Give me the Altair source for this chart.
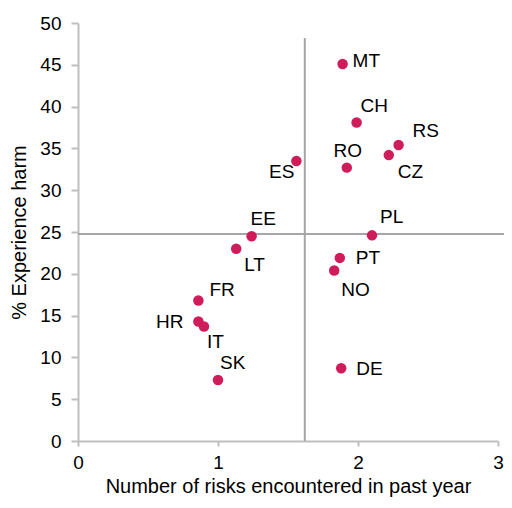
import altair as alt
import pandas as pd

# ---- data ----
countries = ["MT", "CH", "RS", "CZ", "RO", "ES", "PL", "EE", "LT", "PT", "NO", "DE", "FR", "HR", "IT", "SK"]
risks = [1.89, 1.99, 2.29, 2.22, 1.92, 1.56, 2.10, 1.24, 1.13, 1.87, 1.83, 1.88, 0.86, 0.86, 0.90, 1.00]
harm = [45.1, 38.1, 35.4, 34.2, 32.7, 33.5, 24.6, 24.5, 23.0, 21.9, 20.4, 8.7, 16.8, 14.3, 13.7, 7.3]

avg_risks = 1.62
avg_harm = 24.75
vline_top = 48.2

x_ticks = [0, 1, 2, 3]
y_ticks = [0, 5, 10, 15, 20, 25, 30, 35, 40, 45, 50]

# ---- styling ----
FONT = "Liberation Sans"
POINT_COLOR = "#D01C5A"
LINE_COLOR = "#A6A6A6"
AXIS_COLOR = "#BFBFBF"
W, H = 420, 418
PAD = {"left": 70, "top": 15, "right": 6, "bottom": 57}

# label placement (pixel offsets from the point, text alignment)
label_style = {
    "MT": (10, -3, "left"),
    "CH": (4, -16, "left"),
    "RS": (14, -14, "left"),
    "CZ": (9, 17, "left"),
    "RO": (1, -17, "center"),
    "ES": (-2, 11, "right"),
    "PL": (8, -18, "left"),
    "EE": (-1, -17, "left"),
    "LT": (8, 16, "left"),
    "PT": (16, 0, "left"),
    "NO": (7, 20, "left"),
    "DE": (15, 1, "left"),
    "FR": (11, -11, "left"),
    "HR": (-15, 1, "right"),
    "IT": (3, 16, "left"),
    "SK": (2, -17, "left"),
}

df = pd.DataFrame({"country": countries, "risks": risks, "harm": harm})

x_scale = alt.Scale(domain=[0, 3], nice=False, zero=False)
y_scale = alt.Scale(domain=[0, 50], nice=False, zero=False)

x_enc = alt.X(
    "risks:Q",
    scale=x_scale,
    axis=alt.Axis(
        values=x_ticks,
        format="d",
        labelFlush=False,
        title="Number of risks encountered in past year",
        titleFont=FONT,
        titleFontSize=20,
        titleFontWeight="normal",
        titleColor="#000000",
        titleBaseline="alphabetic",
        titleY=51,
        labelFont=FONT,
        labelFontSize=19,
        labelColor="#000000",
        labelPadding=7,
        tickSize=5,
        grid=False,
    ),
)
y_enc = alt.Y(
    "harm:Q",
    scale=y_scale,
    axis=alt.Axis(
        values=y_ticks,
        format="d",
        labelFlush=False,
        title="% Experience harm",
        titleFont=FONT,
        titleFontSize=20,
        titleFontWeight="normal",
        titleColor="#000000",
        titleAngle=270,
        titleBaseline="middle",
        titleAlign="center",
        titleX=-59,
        titleY=H / 2,
        labelFont=FONT,
        labelFontSize=19,
        labelColor="#000000",
        labelPadding=10,
        tickSize=7,
        grid=False,
    ),
)

one = pd.DataFrame({"k": [0]})

hline = alt.Chart(one).mark_rule(color=LINE_COLOR, strokeWidth=2, clip=False).encode(
    y=alt.YDatum(avg_harm),
    x=alt.value(0),
    x2=alt.value(W + PAD["right"]),
)
vline = alt.Chart(one).mark_rule(color=LINE_COLOR, strokeWidth=2).encode(
    x=alt.XDatum(avg_risks),
    y=alt.YDatum(0),
    y2=alt.Y2Datum(vline_top),
)

points = alt.Chart(df).mark_circle(size=110, opacity=1, color=POINT_COLOR).encode(x=x_enc, y=y_enc)

labels = []
for c, (dx, dy, align) in label_style.items():
    labels.append(
        alt.Chart(df)
        .transform_filter(alt.datum.country == c)
        .mark_text(font=FONT, fontSize=19, color="#000000", align=align, baseline="middle", dx=dx, dy=dy)
        .encode(x="risks:Q", y="harm:Q", text="country:N")
    )

chart = (
    alt.layer(hline, vline, points, *labels)
    .properties(
        width=W,
        height=H,
        autosize=alt.AutoSizeParams(type="none"),
        padding=PAD,
    )
    .configure_view(stroke=None)
    .configure_axis(
        domainColor=AXIS_COLOR,
        domainWidth=2,
        tickColor=AXIS_COLOR,
        tickWidth=2,
    )
)

chart.save("out.html", embed_options={"renderer": "svg", "actions": False})
